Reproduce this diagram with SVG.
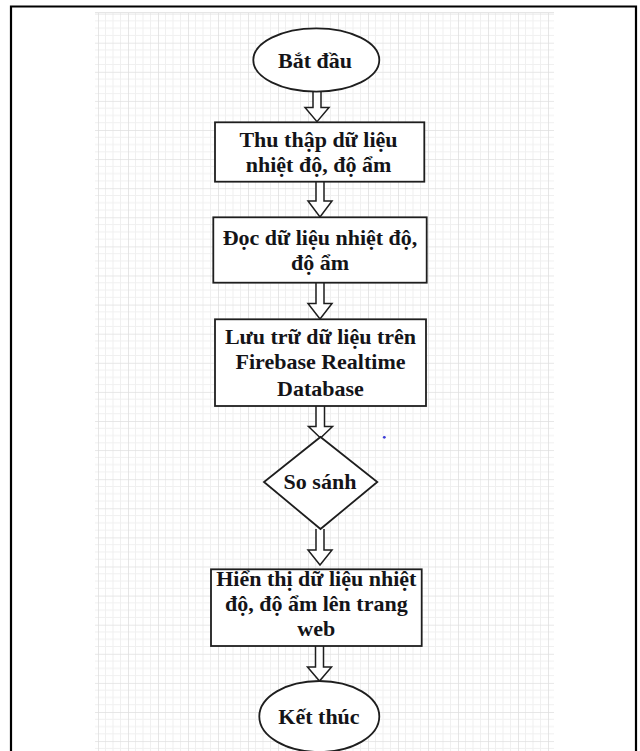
<svg xmlns="http://www.w3.org/2000/svg" width="640" height="751" viewBox="0 0 640 751">
  <defs>
    <pattern id="grid" patternUnits="userSpaceOnUse" x="98" y="13.6" width="30" height="29.1">
      <path d="M7.5 0V29.1M15 0V29.1M22.5 0V29.1M0 7.275H30M0 14.55H30M0 21.825H30" stroke="#f0f0f0" stroke-width="1" fill="none"/>
      <path d="M0 0V29.1M0 0H30" stroke="#e0e0e0" stroke-width="1.6" fill="none"/>
    </pattern>
    <style>
      .frame { stroke: #000; stroke-width: 2.2; fill: none; }
      .shape { fill: #fff; stroke: #1e1e1e; stroke-width: 1.8; }
      .flow { fill: #fff; stroke: #1e1e1e; stroke-width: 1.5; stroke-linejoin: miter; }
      .label { font-family: "Liberation Serif", "Times New Roman", serif; font-weight: bold; font-size: 22px; fill: #141418; text-anchor: middle; }
    </style>
  </defs>

  <rect width="640" height="751" fill="#fff"/>

  <!-- table cell borders -->
  <path class="frame" d="M11 751V6.5H636V751"/>

  <!-- canvas grid -->
  <rect x="95" y="12" width="459" height="739" fill="url(#grid)"/>
  <path d="M95 12.5H554" stroke="#e6e6e6" stroke-width="1"/>

  <!-- connectors: hollow block arrows -->
  <g id="connectors">
    <path class="flow" d="M313 91V107.5H305L317 121.7L329 107.5H321V91"/>
    <path class="flow" d="M316 182V201H308L320 217L332 201H324V182"/>
    <path class="flow" d="M316 283V303.5H308L320 319L332 303.5H324V283"/>
    <path class="flow" d="M316 406V426.5H308.5L320.5 438L332.5 426.5H324.5V406"/>
    <path class="flow" d="M316 529V550H308L320 565L332 550H324V529"/>
    <path class="flow" d="M315.5 646V667H307.5L319.5 681L331.5 667H323.5V646"/>
  </g>

  <g id="start">
    <ellipse class="shape" cx="316.3" cy="60" rx="63" ry="31.7"/>
    <text class="label" x="315" y="67.5">Bắt đầu</text>
  </g>

  <g id="collect">
    <rect class="shape" x="215" y="122.3" width="209.3" height="59.4"/>
    <text class="label" x="318.5" y="147">Thu thập dữ liệu</text>
    <text class="label" x="318.5" y="172">nhiệt độ, độ ẩm</text>
  </g>

  <g id="read">
    <rect class="shape" x="213.3" y="217.3" width="213.4" height="65.4"/>
    <text class="label" x="320" y="245">Đọc dữ liệu nhiệt độ,</text>
    <text class="label" x="320" y="270">độ ẩm</text>
  </g>

  <g id="store">
    <rect class="shape" x="215" y="319.3" width="211" height="86.7"/>
    <text class="label" x="320.5" y="344">Lưu trữ dữ liệu trên</text>
    <text class="label" x="320.5" y="369">Firebase Realtime</text>
    <text class="label" x="320.5" y="396">Database</text>
  </g>

  <g id="compare">
    <polygon class="shape" points="320.5,437 377.3,482 320.5,529 264,482"/>
    <text class="label" x="320" y="488.5">So sánh</text>
  </g>

  <circle cx="384.3" cy="437.3" r="1.4" fill="#3b3bd6"/>

  <g id="display">
    <rect class="shape" x="211" y="569.3" width="210.7" height="76.7"/>
    <text class="label" x="316.3" y="585.5">Hiển thị dữ liệu nhiệt</text>
    <text class="label" x="316.3" y="610.5">độ, độ ẩm lên trang</text>
    <text class="label" x="316.3" y="636">web</text>
  </g>

  <g id="end">
    <ellipse class="shape" cx="319.3" cy="716.5" rx="60" ry="35.5"/>
    <text class="label" x="319" y="723.5">Kết thúc</text>
  </g>
</svg>
